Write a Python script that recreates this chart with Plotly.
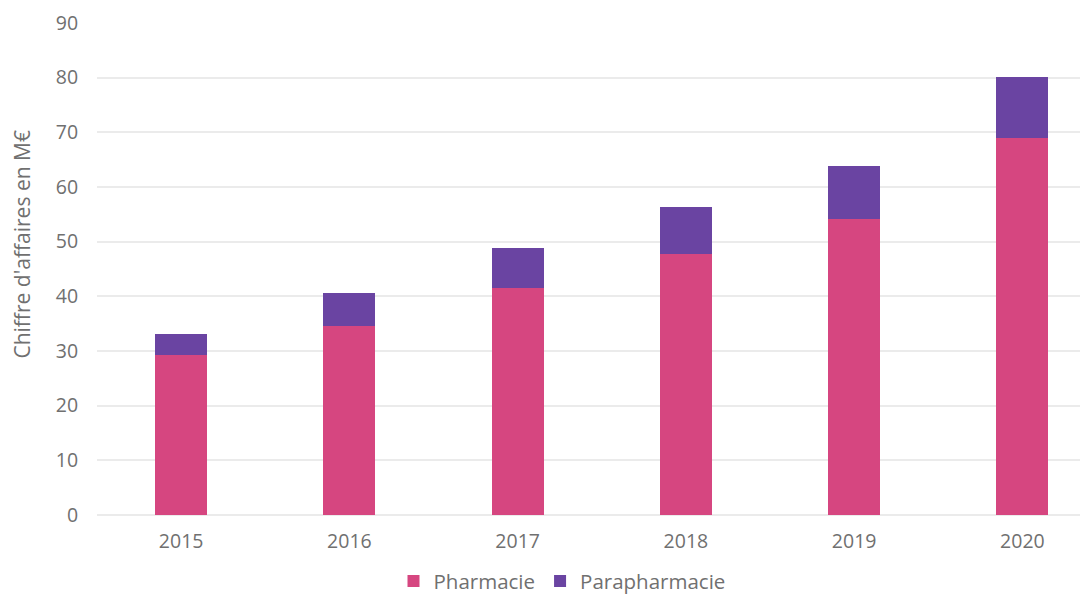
import plotly.graph_objects as go

years = ["2015", "2016", "2017", "2018", "2019", "2020"]
pharmacie = [29.2, 34.6, 41.6, 47.8, 54.2, 69.0]
parapharmacie = [3.9, 6.1, 7.3, 8.6, 9.6, 11.1]

FONT = "Open Sans, sans-serif"
GREY = "#707070"

# page body has an 8px margin: figure coords = screen coords - 8
OFF = 8
W, H = 1088 - OFF, 595 - OFF
L = 97 - OFF
T = 22.5 - OFF
B = H - (515.5 - OFF)
R = 0
plot_w = W - L - R
plot_h = H - T - B

fig = go.Figure()
fig.add_trace(go.Bar(x=years, y=pharmacie, name="Pharmacie",
                     marker=dict(color="#D64680", line=dict(width=0))))
fig.add_trace(go.Bar(x=years, y=parapharmacie, name="Parapharmacie",
                     marker=dict(color="#6A44A2", line=dict(width=0))))

fig.update_layout(
    width=W, height=H,
    barmode="stack", bargap=0.69,
    paper_bgcolor="white", plot_bgcolor="white",
    margin=dict(l=L, r=R, t=T, b=B, autoexpand=False),
    font=dict(family=FONT, size=16, color=GREY),
    showlegend=True,
    legend=dict(orientation="h", x=(562 - 97) / plot_w, xanchor="center",
                y=-0.094, yanchor="top", itemwidth=30,
                font=dict(size=20.5, color=GREY), traceorder="normal"),
    xaxis=dict(type="category", range=[-0.5, 5.39], showgrid=False, showline=False,
               automargin=False,
               ticks="outside", ticklen=9, tickcolor="rgba(0,0,0,0)",
               tickfont=dict(size=19.5, color=GREY)),
    yaxis=dict(range=[0, 90], dtick=10, showgrid=True, gridcolor="#ebebeb", gridwidth=1.5,
               zeroline=True, zerolinecolor="#ebebeb", zerolinewidth=1.5,
               automargin=False,
               showline=False, ticks="outside", ticklen=14, tickcolor="rgba(0,0,0,0)",
               tickfont=dict(size=19.5, color=GREY)),
    annotations=[dict(text="Chiffre d'affaires en M€", textangle=-90,
                      xref="paper", yref="paper",
                      x=(22.5 - 97) / plot_w, y=(515.5 - 245) / plot_h,
                      xanchor="center", yanchor="middle", showarrow=False,
                      borderpad=0,
                      font=dict(size=21, color=GREY))],
)

fig.write_html("out.html")
